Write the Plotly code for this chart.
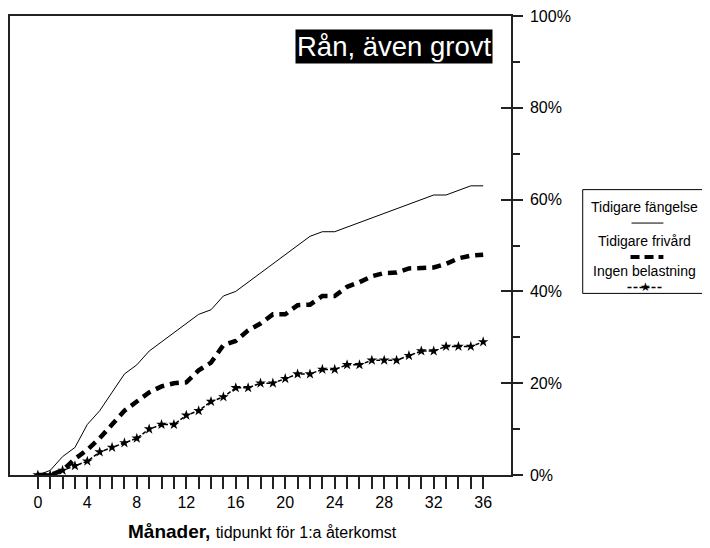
import plotly.graph_objects as go

# ---- data (percent, cumulative) ----
months = list(range(37))
tidigare_fangelse = [0, 1, 4, 6, 11, 14, 18, 22, 24, 27, 29, 31, 33, 35, 36, 39, 40, 42, 44, 46,
                     48, 50, 52, 53, 53, 54, 55, 56, 57, 58, 59, 60, 61, 61, 62, 63, 63]
tidigare_frivard = [0, 0, 1, 3.5, 5.5, 8, 11, 14, 16, 18, 19.3, 20, 20.2, 22.8, 24.5, 28.3, 29.2, 31.5, 33, 35,
                    35, 37, 37.1, 39, 39, 41, 42, 43.3, 44, 44.1, 45, 45, 45.2, 46, 47.2, 47.8, 48]
ingen_belastning = [0, 0, 1, 2, 3, 5, 6, 7, 8, 10, 11, 11, 13, 14, 16, 17, 19, 19, 20, 20,
                    21, 22, 22, 23, 23, 24, 24, 25, 25, 25, 26, 27, 27, 28, 28, 28, 29]

x_major = [0, 4, 8, 12, 16, 20, 24, 28, 32, 36]
y_major = [0, 20, 40, 60, 80, 100]
y_labels = ["0%", "20%", "40%", "60%", "80%", "100%"]
y_minor = [10, 30, 50, 70, 90]

legend_labels = ["Tidigare fängelse", "Tidigare frivård", "Ingen belastning"]
title_text = "Rån, även grovt"

FONT = "Liberation Sans, Arial, Helvetica, sans-serif"
AX = "#222222"

W, H = 710, 548
OFF = 8  # page body margin
# plot area in screenshot pixels
L, R, T, B = 8, 511, 15, 475


def px(x):
    return (x - L) / (R - L)


def py(y):
    return (B - y) / (B - T)


fig = go.Figure()
fig.add_trace(go.Scatter(x=months, y=tidigare_fangelse, mode="lines",
                         line=dict(color="black", width=1), showlegend=False, hoverinfo="skip"))
fig.add_trace(go.Scatter(x=months, y=tidigare_frivard, mode="lines",
                         line=dict(color="black", width=4.5, dash="9px,6px"), showlegend=False, hoverinfo="skip"))
fig.add_trace(go.Scatter(x=months, y=ingen_belastning, mode="lines+markers",
                         line=dict(color="black", width=1.5, dash="4px,2px"),
                         marker=dict(symbol="star", size=8, color="black"),
                         showlegend=False, hoverinfo="skip"))
# dummy trace for the overlay axis (inside half of major y ticks)
fig.add_trace(go.Scatter(x=[None], y=[None], yaxis="y2", showlegend=False, hoverinfo="skip"))

fig.update_layout(
    width=W, height=H,
    margin=dict(l=L - OFF, r=W - (R - OFF), t=T - OFF, b=H - (B - OFF)),
    paper_bgcolor="white", plot_bgcolor="white",
    font=dict(family=FONT, color="black", size=16),
    showlegend=False,
    xaxis=dict(
        range=[-2.25, 38.25], tickmode="array", tickvals=x_major,
        ticks="outside", ticklen=12, tickwidth=1.5, tickcolor=AX,
        minor=dict(tickmode="array", tickvals=months, ticks="outside", ticklen=12,
                   tickwidth=1.5, tickcolor=AX, showgrid=False),
        showline=True, linecolor=AX, linewidth=1.5, mirror=True,
        showgrid=False, zeroline=False, ticklabelstandoff=0,
        tickfont=dict(size=16, family=FONT, color="black"),
    ),
    yaxis=dict(
        range=[0, 100], side="right", tickmode="array", tickvals=y_major, ticktext=y_labels,
        ticks="outside", ticklen=10, tickwidth=1.5, tickcolor=AX,
        minor=dict(tickmode="array", tickvals=y_minor, ticks="outside", ticklen=7,
                   tickwidth=1.5, tickcolor=AX, showgrid=False),
        showline=True, linecolor=AX, linewidth=1.5, mirror=True,
        showgrid=False, zeroline=False, ticklabelstandoff=4, ticklabeloverflow="allow",
        tickfont=dict(size=16, family=FONT, color="black"),
    ),
    yaxis2=dict(
        range=[0, 100], overlaying="y", side="right", tickmode="array", tickvals=y_major,
        ticks="inside", ticklen=10, tickwidth=1.5, tickcolor=AX,
        showticklabels=False, showline=False, showgrid=False, zeroline=False,
    ),
)

# title box
fig.add_annotation(xref="paper", yref="paper", x=px(493), y=py(46), xanchor="right", yanchor="middle",
                   text=title_text, showarrow=False, bgcolor="black", borderpad=1,
                   font=dict(size=27.5, color="white", family=FONT))

# x-axis title
fig.add_annotation(xref="paper", yref="paper", x=px(262), y=py(532), xanchor="center", yanchor="middle",
                   text="<b>Månader,</b> <span style='font-size:16px'>tidpunkt för 1:a återkomst</span>",
                   showarrow=False, font=dict(size=19, color="black", family=FONT))

# custom legend box
fig.add_shape(type="rect", xref="paper", yref="paper", x0=px(583), x1=px(709), y0=py(293), y1=py(189),
              line=dict(color="black", width=1), fillcolor="white")
for lab, yy in zip(legend_labels, [206, 240, 271]):
    fig.add_annotation(xref="paper", yref="paper", x=px(645), y=py(yy), xanchor="center", yanchor="middle",
                       text=lab, showarrow=False, font=dict(size=14, color="black", family=FONT))
fig.add_shape(type="line", xref="paper", yref="paper", x0=px(632), x1=px(664), y0=py(222.5), y1=py(222.5),
              line=dict(color="black", width=1))
fig.add_shape(type="line", xref="paper", yref="paper", x0=px(631), x1=px(664), y0=py(256.5), y1=py(256.5),
              line=dict(color="black", width=4, dash="9px,5px"))
fig.add_shape(type="line", xref="paper", yref="paper", x0=px(628), x1=px(664), y0=py(287), y1=py(287),
              line=dict(color="black", width=1.5, dash="4px,2px"))
fig.add_annotation(xref="paper", yref="paper", x=px(646), y=py(287), xanchor="center", yanchor="middle",
                   text="★", showarrow=False, font=dict(size=12, color="black", family="DejaVu Sans"))

fig.write_html("out.html")
